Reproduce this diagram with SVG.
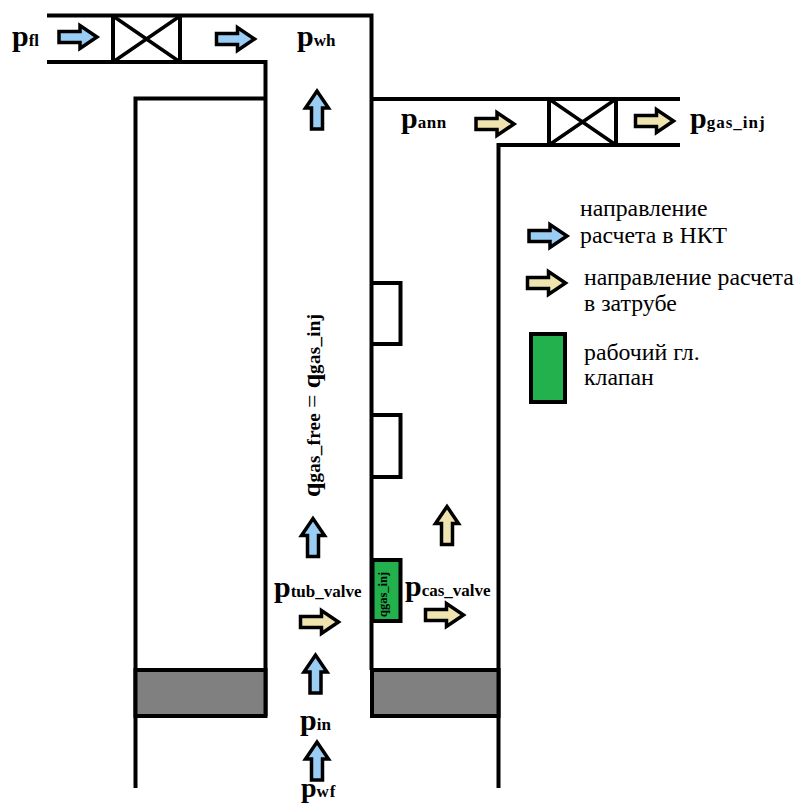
<svg xmlns="http://www.w3.org/2000/svg" width="795" height="803" viewBox="0 0 795 803">
<style>
.l{fill:none;stroke:#000;stroke-width:4}
.x{fill:none;stroke:#000;stroke-width:3.500}
.g{stroke:#000;stroke-width:4;fill:#808080}
.v{stroke:#000;stroke-width:4;fill:#22b14c}
.t{font-family:"Liberation Serif",serif;font-weight:bold;font-size:30px;fill:#000}
.s{font-size:17px}
.r{font-size:19px;letter-spacing:.3px}
.n{font-family:"Liberation Serif",serif;font-size:23.800px;fill:#000}
.ab{fill:#99cdf3}.at{fill:#efe4b0}
</style>
<defs>
<polygon id="ar" points="-19,-5.500 2,-5.500 2,-11.500 19,0 2,11.500 2,5.500 -19,5.500" stroke="#000" stroke-width="3.500" stroke-linejoin="miter"/>
</defs>
<rect width="795" height="803" fill="#fff"/>
<g id="pipes">
<path class="l" d="M47 15.500H371.500V670M47 62H265.500V716M135.500 788V98.500H265.500M371.500 99H680M680 145H498.500V788"/>
</g>
<g id="packer-left"><rect class="g" x="135.500" y="670" width="130" height="46"/></g>
<g id="packer-right"><rect class="g" x="372" y="670" width="126.500" height="46"/></g>
<g id="valve-top"><path class="l" d="M113 16V62M180 16V62"/><path class="x" d="M113 16L180 62M180 16L113 62"/></g>
<g id="valve-ann"><path class="l" d="M549 99V145M616 99V145"/><path class="x" d="M549 99L616 145M616 99L549 145"/></g>
<g id="mandrel-1"><path class="l" d="M372 283H400.500V344H372"/></g>
<g id="mandrel-2"><path class="l" d="M372 415H400.500V477H372"/></g>
<g id="gas-valve"><rect class="v" x="372.500" y="560" width="28" height="61"/>
<text class="t" transform="translate(387 617) rotate(-90)" style="font-size:12.500px">qgas_inj</text></g>
<g id="legend-tubing-swatch"><use href="#ar" class="ab" transform="translate(548 236)"/></g>
<g id="legend-annulus-swatch"><use href="#ar" class="at" transform="translate(546.500 283)"/></g>
<g id="legend-valve-swatch"><rect class="v" x="531" y="334" width="34" height="68"/></g>
<g id="connectors">
<use href="#ar" class="ab" transform="translate(78 37)"/>
<use href="#ar" class="ab" transform="translate(235.500 39)"/>
<use href="#ar" class="ab" transform="translate(317 110) rotate(-90)"/>
<use href="#ar" class="at" transform="translate(495 124)"/>
<use href="#ar" class="at" transform="translate(654.500 121)"/>
<use href="#ar" class="ab" transform="translate(313 537.500) rotate(-90)"/>
<use href="#ar" class="at" transform="translate(447 525.500) rotate(-90)"/>
<use href="#ar" class="at" transform="translate(319.500 622)"/>
<use href="#ar" class="at" transform="translate(444.500 615)"/>
<use href="#ar" class="ab" transform="translate(315.500 674) rotate(-90)"/>
<use href="#ar" class="ab" transform="translate(317 761) rotate(-90)"/>
</g>
<g id="labels">
<text class="t" x="12" y="46">p<tspan class="s">fl</tspan></text>
<text class="t" x="297" y="46">p<tspan class="s">wh</tspan></text>
<text class="t" x="401" y="128">p<tspan class="s" letter-spacing=".6">ann</tspan></text>
<text class="t" x="690" y="128">p<tspan class="s" letter-spacing="1">gas_inj</tspan></text>
<text class="t" x="274" y="597">p<tspan class="s">tub_valve</tspan></text>
<text class="t" x="405" y="596">p<tspan class="s">cas_valve</tspan></text>
<text class="t" x="300" y="730">p<tspan class="s">in</tspan></text>
<text class="t" x="301" y="797" style="font-size:28px">p<tspan class="s" letter-spacing=".8">wf</tspan></text>
<text class="t" transform="translate(320 497) rotate(-90)" style="font-size:26px">q<tspan class="r">gas_free </tspan><tspan style="font-size:24px;font-weight:normal">= </tspan>q<tspan class="r" letter-spacing="1">gas_inj</tspan></text>
</g>
<g id="legend-text">
<text class="n" x="580" y="216">направление</text>
<text class="n" x="580" y="243">расчета в НКТ</text>
<text class="n" x="584" y="285">направление расчета</text>
<text class="n" x="584" y="311">в затрубе</text>
<text class="n" x="584" y="360">рабочий гл.</text>
<text class="n" x="584" y="385">клапан</text>
</g>
</svg>
